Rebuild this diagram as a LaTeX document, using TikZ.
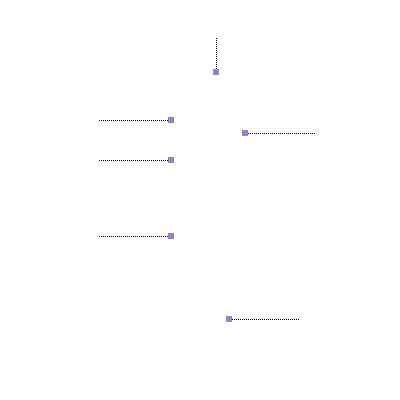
\documentclass[tikz,border=0pt]{standalone}
\usepackage{tikz}
\definecolor{markpurple}{RGB}{155,128,200}
\tikzset{
    mark box/.style={shape=rectangle,fill=markpurple,inner sep=0pt,minimum size=6*0.025cm},
    leader/.style={dash pattern=on 0.7113pt off 0.7113pt,line width=0.7pt,black}
}

\begin{document}
\begin{tikzpicture}[x=0.025cm,y=-0.025cm]
    \useasboundingbox (0,0) rectangle (400,400);
    \node[mark box] (M1) at (216,72) {};
    \node[mark box] (M2) at (171,120) {};
    \node[mark box] (M3) at (245,133) {};
    \node[mark box] (M4) at (171,160) {};
    \node[mark box] (M5) at (171,236) {};
    \node[mark box] (M6) at (229,319) {};
    \coordinate (E1) at (216,38);
    \coordinate (E2) at (99,120);
    \coordinate (E3) at (315,133);
    \coordinate (E4) at (99,160);
    \coordinate (E5) at (99,236);
    \coordinate (E6) at (299,319);
    \draw [leader] (E1) -- (M1);
    \draw [leader] (E2) -- (M2);
    \draw [leader] (M3) -- (E3);
    \draw [leader] (E4) -- (M4);
    \draw [leader] (E5) -- (M5);
    \draw [leader] (M6) -- (E6);
\end{tikzpicture}
\end{document}
